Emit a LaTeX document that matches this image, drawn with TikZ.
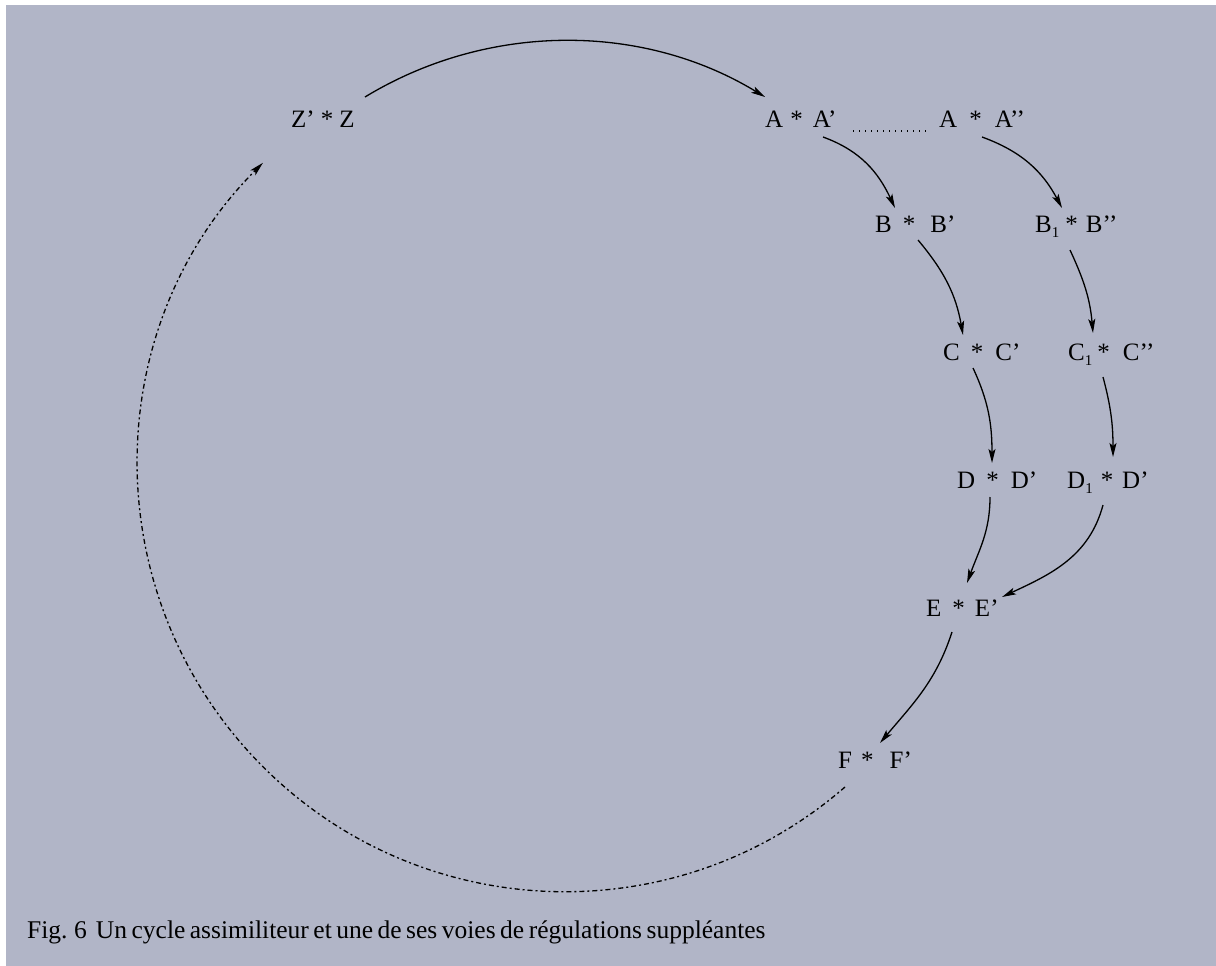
\documentclass[tikz,border=0pt]{standalone}
\usepackage{fontspec}
\setmainfont{Liberation Serif}
\usetikzlibrary{arrows.meta}
\definecolor{bgcol}{RGB}{177,181,199}
\newcommand{\pr}[4]{#1\hspace{#2pt}*\hspace{#3pt}#4}
\newcommand{\sub}{\raisebox{-5pt}{\fontsize{15}{15}\selectfont 1}}
\begin{document}
\begin{tikzpicture}[x=1pt,y=1pt,
  lbl/.style={inner sep=0pt,anchor=base west,font=\fontsize{25}{29}\selectfont},
  conn/.style={line width=1.3pt,-{Stealth[length=14pt,width=7pt,inset=3pt]}},
  dashdot/.style={line width=1.3pt,dash pattern=on 5pt off 3pt on 2pt off 3pt,-{Stealth[length=14pt,width=7pt,inset=3pt]}}]
\useasboundingbox (0,0) rectangle (1216,-966);
\fill[white] (0,0) rectangle (1216,-966);
\fill[bgcol] (6,-5) rectangle (1216,-966);
% nodes
\node[lbl] (z) at (291,-128) {\pr{Z’}{6}{6}{Z}};
\node[lbl] (a) at (765,-128) {\pr{A}{7}{10}{A’}};
\node[lbl] (aa) at (939,-128) {\pr{A}{12}{13}{A’’}};
\node[lbl] (b) at (875,-232) {\pr{B}{11}{15}{B’}};
\node[lbl] (bb) at (1035,-232) {\pr{B\sub}{6}{8}{B’’}};
\node[lbl] (c) at (943,-360) {\pr{C}{11}{12}{C’}};
\node[lbl] (cc) at (1068,-360) {\pr{C\sub}{5}{13}{C’’}};
\node[lbl] (d) at (957,-488) {\pr{D}{11}{12}{D’}};
\node[lbl] (dd) at (1067,-488) {\pr{D\sub}{8}{9}{D’}};
\node[lbl] (e) at (926,-616) {\pr{E}{11}{10}{E’}};
\node[lbl] (f) at (838,-768) {\pr{F}{9}{16}{F’}};
\node[lbl,font=\fontsize{25.5}{29}\selectfont] (cap) at (27,-938) {\spaceskip=4.5pt plus 1pt\relax Fig. 6\ \ Un cycle assimiliteur et une de ses voies de régulations suppléantes};
% connectors
\draw[conn] ([shift={(74,31)}]z.base west) arc[start angle=121.3,end angle=58.7,radius=385];
\draw[line width=1.2pt,dash pattern=on 1.2pt off 4.8pt] ([shift={(88,-3)}]a.base west) -- ([shift={(-12,-3)}]aa.base west);
\draw[conn] ([shift={(58,-9)}]a.base west) to[out=-20,in=115] ([shift={(20,24)}]b.base west);
\draw[conn] ([shift={(43,-9)}]aa.base west) to[out=-20,in=118] ([shift={(27,24)}]bb.base west);
\draw[conn] ([shift={(43,-8)}]b.base west) to[out=-50,in=100] ([shift={(20,25)}]c.base west);
\draw[conn] ([shift={(35,-18)}]bb.base west) to[out=-65,in=95] ([shift={(25,27)}]cc.base west);
\draw[conn] ([shift={(30,-8)}]c.base west) to[out=-65,in=90] ([shift={(35,25)}]d.base west);
\draw[conn] ([shift={(35,-17)}]cc.base west) to[out=-75,in=90] ([shift={(46,31)}]dd.base west);
\draw[conn] ([shift={(33,-9)}]d.base west) to[out=-90,in=70] ([shift={(41,33)}]e.base west);
\draw[conn] ([shift={(36,-17)}]dd.base west) to[out=-105,in=25] ([shift={(76,19)}]e.base west);
\draw[conn] ([shift={(26,-16)}]e.base west) to[out=-108,in=50] ([shift={(42,25)}]f.base west);
\draw[dashdot] ([shift={(7,-19)}]f.base west) arc[start angle=-49,end angle=-225,radius=427];
\end{tikzpicture}
\end{document}
